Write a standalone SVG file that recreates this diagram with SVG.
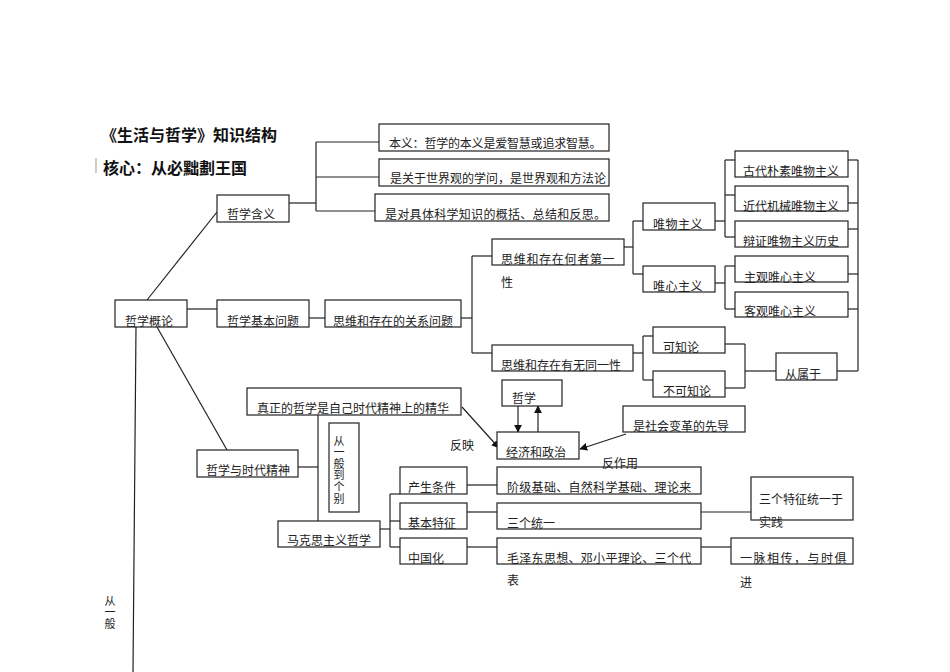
<svg xmlns="http://www.w3.org/2000/svg" width="950" height="672" viewBox="0 0 950 672">
<defs>
<style>
.b{fill:#fff;stroke:#222;stroke-width:1.2}
.t{font-family:"Noto Sans CJK SC","Noto Sans",sans-serif;font-size:12px;fill:#222}
.v{font-family:"Noto Sans CJK SC","Noto Sans",sans-serif;font-size:11px;fill:#222;writing-mode:vertical-rl;text-orientation:upright;letter-spacing:0.6px}
.h{font-family:"Noto Sans CJK SC","Noto Sans",sans-serif;font-size:16px;font-weight:bold;fill:#111}
.c line,.c polyline{stroke:#222;stroke-width:1.2;fill:none}
</style>
<marker id="ar" viewBox="0 0 10 10" refX="9" refY="5" markerWidth="8" markerHeight="8" orient="auto" markerUnits="userSpaceOnUse">
<path d="M0,0 L10,5 L0,10 z" fill="#111"/>
</marker>
</defs>
<rect width="950" height="672" fill="#fff"/>
<text class="h" x="101" y="141">《生活与哲学》知识结构</text>
<line x1="96" y1="158" x2="96" y2="173" stroke="#999" stroke-width="1"/>
<text class="h" x="103" y="174">核心：从必黜劃王国</text>

<g class="c" id="connectors">
<line x1="289" y1="203" x2="316" y2="203"/>
<line x1="316" y1="142" x2="316" y2="211"/>
<line x1="316" y1="142" x2="379" y2="142"/>
<line x1="316" y1="177" x2="379" y2="177"/>
<line x1="316" y1="211" x2="375" y2="211"/>
<line x1="147" y1="300" x2="217" y2="212"/>
<line x1="187" y1="309" x2="217" y2="309"/>
<line x1="309" y1="318" x2="325" y2="318"/>
<line x1="461" y1="318" x2="472" y2="318"/>
<line x1="472" y1="256" x2="472" y2="353"/>
<line x1="472" y1="256" x2="492" y2="256"/>
<line x1="472" y1="353" x2="492" y2="353"/>
<line x1="624" y1="247" x2="633" y2="247"/>
<line x1="633" y1="221" x2="633" y2="274"/>
<line x1="633" y1="221" x2="643" y2="221"/>
<line x1="633" y1="274" x2="643" y2="274"/>
<line x1="715" y1="221" x2="725" y2="221"/>
<line x1="725" y1="160" x2="725" y2="237"/>
<line x1="725" y1="160" x2="735" y2="160"/>
<line x1="725" y1="195" x2="735" y2="195"/>
<line x1="725" y1="237" x2="735" y2="237"/>
<line x1="715" y1="283" x2="725" y2="283"/>
<line x1="725" y1="266" x2="725" y2="309"/>
<line x1="725" y1="266" x2="735" y2="266"/>
<line x1="725" y1="309" x2="735" y2="309"/>
<line x1="848" y1="160" x2="858" y2="160"/>
<line x1="848" y1="203" x2="858" y2="203"/>
<line x1="848" y1="229" x2="858" y2="229"/>
<line x1="848" y1="274" x2="858" y2="274"/>
<line x1="848" y1="309" x2="858" y2="309"/>
<line x1="858" y1="160" x2="858" y2="371"/>
<line x1="858" y1="371" x2="837" y2="371"/>
<line x1="633" y1="353" x2="643" y2="353"/>
<line x1="643" y1="336" x2="643" y2="380"/>
<line x1="643" y1="336" x2="653" y2="336"/>
<line x1="643" y1="380" x2="653" y2="380"/>
<line x1="725" y1="344" x2="745" y2="344"/>
<line x1="725" y1="388" x2="745" y2="388"/>
<line x1="745" y1="344" x2="745" y2="388"/>
<line x1="745" y1="371" x2="776" y2="371"/>
<line x1="136" y1="327" x2="133" y2="672"/>
<line x1="157" y1="327" x2="227" y2="450"/>
<line x1="298" y1="467" x2="318" y2="467"/>
<line x1="318" y1="415" x2="318" y2="521"/>
<line x1="380" y1="529" x2="390" y2="529"/>
<line x1="390" y1="494" x2="390" y2="547"/>
<line x1="390" y1="494" x2="400" y2="494"/>
<line x1="390" y1="521" x2="400" y2="521"/>
<line x1="390" y1="547" x2="400" y2="547"/>
<line x1="467" y1="485" x2="497" y2="485"/>
<line x1="467" y1="512" x2="497" y2="512"/>
<line x1="467" y1="547" x2="497" y2="547"/>
<line x1="701" y1="512" x2="751" y2="512"/>
<line x1="701" y1="547" x2="731" y2="547"/>
<line x1="462" y1="407" x2="499" y2="448" marker-end="url(#ar)"/>
<line x1="518" y1="406" x2="518" y2="432" marker-end="url(#ar)"/>
<line x1="538" y1="432" x2="538" y2="406" marker-end="url(#ar)"/>
<line x1="626" y1="434" x2="580" y2="449" marker-end="url(#ar)"/>
</g>

<g id="n1"><rect class="b" x="217" y="195" width="72" height="27"/><text class="t" x="227" y="219">哲学含义</text></g>
<g id="n2"><rect class="b" x="379" y="124" width="230" height="27"/><text class="t" x="389" y="148" letter-spacing="-0.2">本义：哲学的本义是爱智慧或追求智慧。</text></g>
<g id="n3"><rect class="b" x="379" y="159" width="230" height="27"/><text class="t" x="390" y="183">是关于世界观的学问，是世界观和方法论</text></g>
<g id="n4"><rect class="b" x="375" y="194" width="234" height="27"/><text class="t" x="385" y="219" letter-spacing="0.3">是对具体科学知识的概括、总结和反思。</text></g>
<g id="n5"><rect class="b" x="115" y="300" width="72" height="27"/><text class="t" x="125" y="326">哲学概论</text></g>
<g id="n6"><rect class="b" x="217" y="300" width="92" height="27"/><text class="t" x="227" y="326">哲学基本问题</text></g>
<g id="n7"><rect class="b" x="325" y="300" width="136" height="27"/><text class="t" x="333" y="326">思维和存在的关系问题</text></g>
<g id="n8"><rect class="b" x="492" y="239" width="132" height="26"/><text class="t" x="501" y="264" letter-spacing="0.7">思维和存在何者第一</text><text class="t" x="501" y="287">性</text></g>
<g id="n9"><rect class="b" x="492" y="345" width="141" height="26"/><text class="t" x="501" y="370">思维和存在有无同一性</text></g>
<g id="n10"><rect class="b" x="643" y="203" width="72" height="27"/><text class="t" x="653" y="229" letter-spacing="0.5">唯物主义</text></g>
<g id="n11"><rect class="b" x="643" y="266" width="72" height="26"/><text class="t" x="653" y="291" letter-spacing="0.5">唯心主义</text></g>
<g id="n12"><rect class="b" x="735" y="151" width="113" height="26"/><text class="t" x="743" y="176">古代朴素唯物主义</text></g>
<g id="n13"><rect class="b" x="735" y="186" width="113" height="25"/><text class="t" x="743" y="211">近代机械唯物主义</text></g>
<g id="n14"><rect class="b" x="735" y="221" width="113" height="26"/><text class="t" x="743" y="246">辩证唯物主义历史</text></g>
<g id="n15"><rect class="b" x="735" y="256" width="113" height="26"/><text class="t" x="744" y="282">主观唯心主义</text></g>
<g id="n16"><rect class="b" x="735" y="292" width="113" height="25"/><text class="t" x="744" y="316">客观唯心主义</text></g>
<g id="n17"><rect class="b" x="653" y="327" width="72" height="26"/><text class="t" x="663" y="352">可知论</text></g>
<g id="n18"><rect class="b" x="653" y="371" width="72" height="26"/><text class="t" x="663" y="396">不可知论</text></g>
<g id="n19"><rect class="b" x="776" y="353" width="61" height="27"/><text class="t" x="785" y="379">从属于</text></g>
<g id="n20"><rect class="b" x="247" y="388" width="214" height="27"/><text class="t" x="257" y="413">真正的哲学是自己时代精神上的精华</text></g>
<g id="n21"><rect class="b" x="329" y="423" width="30" height="89"/>
<text class="v" x="339" y="435">从一般到个别</text></g>
<g id="n22"><rect class="b" x="197" y="450" width="101" height="27"/><text class="t" x="206" y="475">哲学与时代精神</text></g>
<g id="n23"><rect class="b" x="278" y="521" width="102" height="26"/><text class="t" x="287" y="545">马克思主义哲学</text></g>
<g id="n24"><rect class="b" x="400" y="467" width="67" height="27"/><text class="t" x="408" y="492">产生条件</text></g>
<g id="n25"><rect class="b" x="400" y="503" width="67" height="26"/><text class="t" x="408" y="528">基本特征</text></g>
<g id="n26"><rect class="b" x="400" y="538" width="67" height="26"/><text class="t" x="408" y="563">中国化</text></g>
<g id="n27"><rect class="b" x="497" y="467" width="204" height="27"/><text class="t" x="507" y="492" letter-spacing="0.3">阶级基础、自然科学基础、理论来</text></g>
<g id="n28"><rect class="b" x="497" y="503" width="204" height="26"/><text class="t" x="507" y="528">三个统一</text></g>
<g id="n29"><rect class="b" x="497" y="538" width="204" height="26"/><text class="t" x="507" y="563" letter-spacing="0.3">毛泽东思想、邓小平理论、三个代</text><text class="t" x="507" y="585">表</text></g>
<g id="n30"><rect class="b" x="751" y="477" width="102" height="43"/><text class="t" x="759" y="504">三个特征统一于</text><text class="t" x="759" y="527">实践</text></g>
<g id="n31"><rect class="b" x="731" y="538" width="122" height="26"/><text class="t" x="740" y="563" letter-spacing="1.5">一脉相传，与时俱</text><text class="t" x="740" y="587">进</text></g>
<g id="n32"><rect class="b" x="502" y="380" width="60" height="26"/><text class="t" x="512" y="403">哲学</text></g>
<g id="n33"><rect class="b" x="497" y="432" width="82" height="27"/><text class="t" x="506" y="457">经济和政治</text></g>
<g id="n34"><rect class="b" x="623" y="406" width="122" height="26"/><text class="t" x="633" y="431">是社会变革的先导</text></g>
<g id="labels">
<text class="t" x="450" y="450">反映</text>
<text class="t" x="602" y="468">反作用</text>
<text class="v" x="110" y="595" letter-spacing="-0.5">从一般</text>
</g>
</svg>
